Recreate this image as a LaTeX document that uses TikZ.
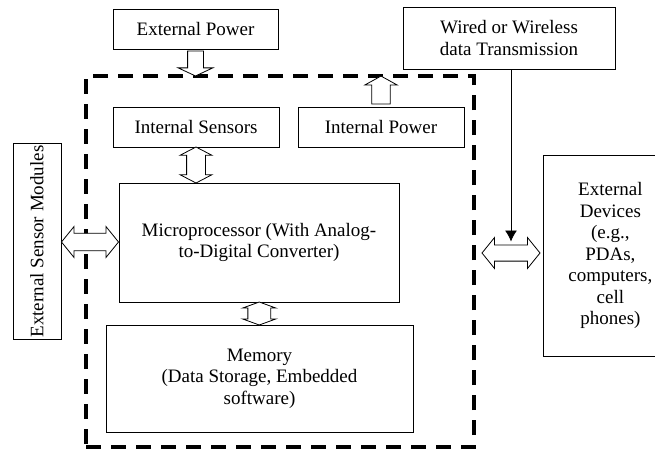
\documentclass[tikz,border=0pt]{standalone}
\usepackage{fontspec}
\setmainfont{Liberation Serif}
\usetikzlibrary{calc,arrows.meta,shapes.arrows}
\usetikzlibrary{positioning}

\begin{document}
\begin{tikzpicture}[x=1pt,y=-1pt,
  box/.style={draw,line width=0.8pt,inner sep=2pt,align=center,
    font=\fontsize{19}{21.5}\selectfont},
  dbl/.style={double arrow,draw,fill=white,line width=0.8pt,inner xsep=0pt},
  sgl/.style={single arrow,draw,fill=white,line width=0.8pt,inner xsep=0pt}]
  \useasboundingbox (0,0) rectangle (655,452);
  % Boxes above the board
  \node[box,minimum width=165,minimum height=40] (extpow) at (195.5,29) {External Power};
  \node[box,minimum width=212,minimum height=62] (wired) at (509,38)
    {Wired or Wireless\\data Transmission};
  % Boxes on the board
  \node[box,minimum width=166,minimum height=40] (sensors) at (196,127) {Internal Sensors};
  \node[box,minimum width=166,minimum height=40] (intpow) at (381,127) {Internal Power};
  \node[box,minimum width=280,minimum height=119] (micro) at (259,242.5)
    {Microprocessor (With Analog-\\to-Digital Converter)};
  \node[box,minimum width=307,minimum height=107] (memory) at (259.5,378.5)
    {Memory\\(Data Storage, Embedded\\software)};
  % Boxes outside
  \node[box,rotate=90,minimum width=195,minimum height=48] (extsens) at (37,241.5)
    {External Sensor Modules};
  \node[box,anchor=north west,minimum width=134,minimum height=201] (extdev) at (543,155)
    {External\\Devices\\(e.g.,\\PDAs,\\computers,\\cell\\phones)};
  % The board itself
  \node[draw,line width=4.3pt,dash pattern=on 15pt off 10pt,
    minimum width=388,minimum height=371] (frame) at (280,261.5) {};
  % Hollow arrows
  \node[sgl,rotate=-90,minimum height=25,inner ysep=7.5pt,
    single arrow head extend=9.5pt,single arrow tip angle=130] (pwrin)
    at ($(extpow.south)!0.5!(extpow.south |- frame.north)$) {};
  \node[sgl,rotate=90,minimum height=28,inner ysep=8.8pt,
    single arrow head extend=7pt,single arrow tip angle=122] (pwrout)
    at ($(intpow.north)+(0,-14)$) {};
  \node[dbl,rotate=90,minimum height=36,inner ysep=9pt,
    double arrow head extend=6.5pt,double arrow tip angle=125] (sensarrow)
    at ($(sensors.south)!0.5!(sensors.south |- micro.north)$) {};
  \node[dbl,rotate=90,minimum height=23,inner ysep=11pt,
    double arrow head extend=5.3pt,double arrow tip angle=140] (memarrow)
    at ($(micro.south)!0.5!(memory.north)$) {};
  \node[dbl,minimum height=57,inner ysep=8.3pt,
    double arrow head extend=6.7pt,double arrow tip angle=102] (extarrow)
    at ($(extsens.south)!0.5!(micro.west)$) {};
  \node[dbl,minimum height=58,inner ysep=7.7pt,
    double arrow head extend=7.3pt,double arrow tip angle=102] (devarrow)
    at (511,253) {};
  % Data line
  \draw[line width=0.8pt,-{Latex[length=11pt,width=12pt]},shorten >=3pt]
    (wired.south -| devarrow) -- (devarrow.north);
\end{tikzpicture}
\end{document}
